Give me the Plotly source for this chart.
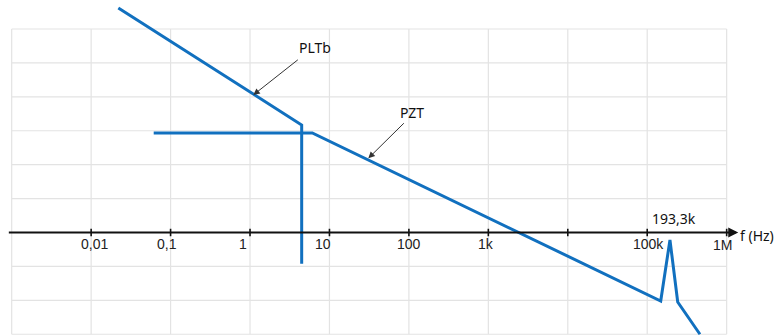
import numpy as np
import plotly.graph_objects as go

# ---------------- data ----------------
pltb_f = [0.022, 4.47, 4.47]
pltb_db = [132.4, 63.4, -18.4]

pzt_f = [0.0613, 6.08, 147900, 193300, 242000, 461000]
pzt_db = [58.7, 58.7, -40.4, -4.4, -41.0, -60.0]

tick_f = [0.01, 0.1, 1, 10, 100, 1e3, 1e4, 1e5, 1e6]
tick_text = ["0,01", "0,1", "1", "10", "100", "1k", "", "100k", "1M"]

grid_decades = list(range(-3, 7))
grid_db = list(range(-60, 121, 20))

peak_label = "193,3k"
axis_label = "f (Hz)"
series_names = ["PLTb", "PZT"]

# ---------------- style / positions ----------------
BLUE = "#1170BF"
GRID = "#e3e3e3"
tick_xshift = [3, -3.6, -6.7, -6.5, 0, -2, 0, 1, -3.7]
tick_yshift = [-11, -11, -11, -11, -11, -11, -11, -11, -12]

fig = go.Figure()

# grid (as shapes so it stops at the frame)
for d in grid_decades:
    fig.add_shape(type="line", x0=d, x1=d, y0=grid_db[0], y1=grid_db[-1],
                  line=dict(color=GRID, width=1.2), layer="below")
for g in grid_db:
    fig.add_shape(type="line", x0=grid_decades[0], x1=grid_decades[-1], y0=g, y1=g,
                  line=dict(color=GRID, width=1.2), layer="below")

# x axis with arrow
fig.add_annotation(x=6.146, y=0, ax=-3.055, ay=0, xref="x", yref="y",
                   axref="x", ayref="y", showarrow=True, text="",
                   arrowhead=2, arrowsize=1, arrowwidth=2, arrowcolor="#111")
# tick marks
for f in tick_f:
    lx = float(np.log10(f))
    fig.add_shape(type="line", x0=lx, x1=lx, y0=-2.2, y1=2.2,
                  line=dict(color="#111", width=1.6))
# tick labels
for f, t, xs, ys in zip(tick_f, tick_text, tick_xshift, tick_yshift):
    if t:
        fig.add_annotation(x=float(np.log10(f)), y=0, text=t, showarrow=False,
                           xref="x", yref="y", xanchor="center", yanchor="middle",
                           xshift=xs, yshift=ys,
                           font=dict(family="Liberation Sans", size=14, color="#222"))

# series
fig.add_trace(go.Scatter(x=np.log10(pltb_f), y=pltb_db, mode="lines",
                         name=series_names[0],
                         line=dict(color=BLUE, width=3), showlegend=False))
fig.add_trace(go.Scatter(x=np.log10(pzt_f), y=pzt_db, mode="lines",
                         name=series_names[1],
                         line=dict(color=BLUE, width=3), showlegend=False))

# callouts
fig.add_annotation(x=0.818, y=108.8, text=series_names[0], showarrow=False,
                   font=dict(family="Noto Sans", size=14, color="#111"))
fig.add_annotation(x=0.0413, y=81.1, ax=0.6204, ay=102.5, xref="x", yref="y",
                   axref="x", ayref="y", text="", showarrow=True,
                   arrowhead=2, arrowsize=1.3, arrowwidth=1, arrowcolor="#333")
fig.add_annotation(x=2.039, y=70.5, text=series_names[1], showarrow=False,
                   font=dict(family="Noto Sans", size=14, color="#111"))
fig.add_annotation(x=1.489, y=43.75, ax=1.955, ay=65.3, xref="x", yref="y",
                   axref="x", ayref="y", text="", showarrow=True,
                   arrowhead=2, arrowsize=1.3, arrowwidth=1, arrowcolor="#333")

fig.add_annotation(x=5.337, y=8.55, text=peak_label, showarrow=False,
                   font=dict(family="Noto Sans", size=14, color="#111"))
fig.add_annotation(x=6.382, y=-1.5, text=axis_label, showarrow=False,
                   font=dict(family="Noto Sans", size=14, color="#111"))

fig.update_layout(
    width=777, height=336,
    margin=dict(l=0, r=0, t=0, b=0),
    plot_bgcolor="white", paper_bgcolor="white",
    xaxis=dict(range=[-3.1473, 6.6337], visible=False, fixedrange=True),
    yaxis=dict(range=[-61.03, 137.09], visible=False, fixedrange=True),
    showlegend=False,
)

fig.write_html("out.html", config={"displayModeBar": False},
               post_script="document.body.style.margin='0';document.body.style.overflow='hidden';")
